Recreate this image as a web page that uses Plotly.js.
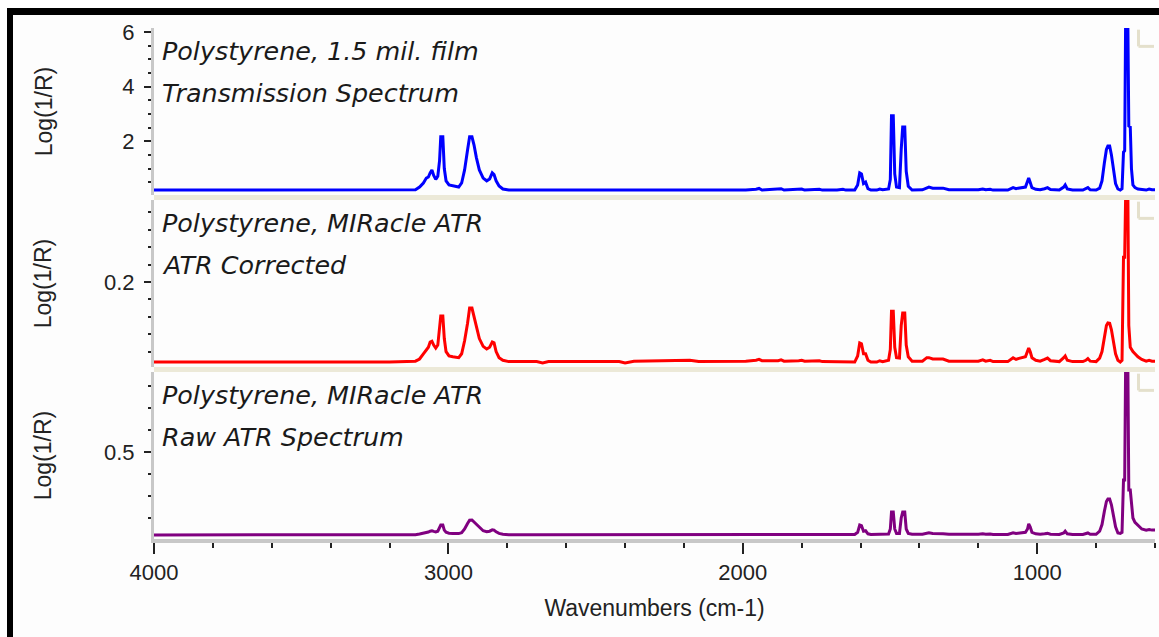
<!DOCTYPE html>
<html><head><meta charset="utf-8">
<script src="https://cdn.plot.ly/plotly-3.0.1.min.js"></script>
<style>
body{margin:0;background:#fff;}
#frame{position:absolute;left:7px;top:8px;width:1152px;height:629px;border-top:7px solid #000;border-left:6px solid #000;box-sizing:border-box;background:#fdfdfd;}
#chart{position:absolute;left:0;top:0;width:1159px;height:637px;}
</style></head><body>
<div id="frame"></div><div id="chart"></div>
<script>
const wavenumbers = [4000,3600,3200,3112,3098,3085,3075,3068,3062,3056,3050,3043,3036,3030,3026,3019,3014,3008,2998,2985,2965,2955,2945,2935,2928,2920,2913,2905,2895,2882,2870,2860,2851,2845,2838,2828,2815,2795,2700,2680,2660,2420,2400,2370,2180,2150,1990,1955,1945,1935,1880,1870,1860,1810,1800,1790,1750,1740,1730,1680,1660,1650,1620,1610,1603,1597,1590,1583,1575,1565,1545,1535,1525,1505,1499,1495,1489,1484,1478,1468,1462,1457,1450,1445,1438,1425,1390,1375,1368,1355,1345,1330,1320,1300,1240,1200,1185,1175,1160,1150,1100,1090,1082,1072,1065,1040,1033,1029,1024,1018,1005,990,975,965,955,940,925,910,905,898,880,845,835,828,820,800,788,780,772,765,760,754,748,741,734,726,718,712,707,703,700,692,689,684,680,675,668,658,645,630,620,610,600];
// Polystyrene, 1.5 mil film - transmission spectrum
const transmission = [0.21,0.21,0.21,0.22,0.32,0.47,0.65,0.69,0.84,0.95,0.75,0.60,0.72,1.30,2.16,2.16,1.00,0.55,0.40,0.36,0.32,0.47,0.95,1.68,2.16,2.16,1.86,1.40,0.95,0.65,0.55,0.62,0.84,0.78,0.55,0.36,0.25,0.21,0.21,0.21,0.21,0.21,0.21,0.21,0.21,0.21,0.21,0.24,0.27,0.21,0.23,0.26,0.21,0.23,0.25,0.21,0.23,0.24,0.21,0.21,0.24,0.21,0.21,0.40,0.84,0.80,0.45,0.50,0.26,0.21,0.21,0.25,0.22,0.25,0.60,2.93,2.93,0.80,0.32,0.30,1.70,2.52,2.52,0.90,0.35,0.21,0.22,0.30,0.32,0.28,0.28,0.26,0.28,0.22,0.21,0.22,0.25,0.22,0.24,0.21,0.21,0.26,0.30,0.26,0.28,0.32,0.50,0.65,0.50,0.30,0.24,0.22,0.26,0.30,0.23,0.22,0.21,0.32,0.40,0.25,0.21,0.21,0.25,0.30,0.22,0.21,0.28,0.55,1.20,1.70,1.83,1.83,1.50,0.90,0.45,0.25,0.21,0.26,1.60,1.65,6.11,6.11,2.56,2.52,1.00,0.40,0.30,0.25,0.22,0.21,0.25,0.22,0.22];
// MIRacle ATR - ATR corrected
const atrCorrected = [0.016,0.016,0.016,0.018,0.023,0.035,0.044,0.050,0.062,0.064,0.055,0.048,0.055,0.090,0.122,0.122,0.070,0.040,0.030,0.028,0.026,0.035,0.065,0.105,0.140,0.140,0.122,0.095,0.070,0.052,0.046,0.050,0.062,0.060,0.040,0.026,0.020,0.017,0.017,0.014,0.017,0.017,0.014,0.018,0.020,0.017,0.018,0.020,0.022,0.019,0.019,0.021,0.018,0.019,0.020,0.018,0.018,0.019,0.017,0.016,0.017,0.016,0.016,0.030,0.060,0.058,0.035,0.035,0.020,0.016,0.016,0.019,0.017,0.020,0.045,0.133,0.133,0.050,0.026,0.025,0.100,0.129,0.129,0.055,0.028,0.018,0.018,0.026,0.026,0.023,0.023,0.022,0.023,0.018,0.017,0.018,0.021,0.018,0.020,0.017,0.017,0.022,0.026,0.022,0.024,0.028,0.040,0.048,0.040,0.026,0.020,0.018,0.022,0.025,0.019,0.018,0.017,0.026,0.030,0.020,0.017,0.017,0.020,0.024,0.018,0.017,0.025,0.040,0.075,0.100,0.106,0.105,0.090,0.060,0.035,0.020,0.016,0.020,0.257,0.257,0.386,0.386,0.100,0.050,0.045,0.040,0.035,0.028,0.022,0.018,0.020,0.018,0.018];
// MIRacle ATR - raw ATR spectrum
const atrRaw = [0.123,0.123,0.123,0.124,0.127,0.130,0.134,0.136,0.140,0.142,0.139,0.137,0.140,0.155,0.168,0.168,0.145,0.135,0.131,0.130,0.129,0.133,0.150,0.175,0.190,0.191,0.182,0.168,0.155,0.142,0.138,0.140,0.146,0.145,0.137,0.130,0.126,0.124,0.124,0.124,0.124,0.124,0.124,0.124,0.125,0.125,0.125,0.126,0.127,0.125,0.125,0.126,0.125,0.125,0.126,0.125,0.125,0.126,0.125,0.125,0.126,0.125,0.125,0.135,0.168,0.165,0.140,0.142,0.128,0.125,0.125,0.126,0.125,0.127,0.150,0.227,0.227,0.150,0.130,0.130,0.200,0.227,0.227,0.150,0.130,0.126,0.126,0.132,0.133,0.130,0.130,0.128,0.128,0.126,0.125,0.126,0.128,0.126,0.127,0.125,0.125,0.130,0.133,0.130,0.131,0.135,0.150,0.173,0.160,0.135,0.128,0.126,0.128,0.130,0.126,0.125,0.125,0.132,0.140,0.128,0.125,0.125,0.128,0.132,0.126,0.126,0.140,0.170,0.230,0.275,0.286,0.286,0.260,0.200,0.160,0.132,0.130,0.135,0.373,0.373,0.859,0.859,0.327,0.327,0.250,0.200,0.180,0.165,0.150,0.145,0.148,0.145,0.145];

const panelTitles = [
  ['Polystyrene, 1.5 mil. film', 'Transmission Spectrum'],
  ['Polystyrene, MIRacle ATR', 'ATR Corrected'],
  ['Polystyrene, MIRacle ATR', 'Raw ATR Spectrum']
];
const yTitle = 'Log(1/R)';
const xTitle = 'Wavenumbers (cm-1)';

const TICK = {family:'Liberation Sans, Arial, sans-serif', size:22, color:'#222'};
const TIT = {family:'Liberation Sans, Arial, sans-serif', size:23, color:'#222'};
const TXT = {family:'DejaVu Sans, sans-serif', size:25.4, color:'#1a1a1a', style:'italic'};

function yax(domain, range, dtick, minor, standoff){
  return {domain:domain, range:range, autorange:false, anchor:'x', dtick:dtick, tick0:0,
    ticks:'outside', ticklen:7, tickwidth:2, tickcolor:'#222', ticklabelstandoff:5,
    showline:true, linecolor:'#c8c8c8', linewidth:3, showgrid:false, zeroline:false,
    minor:{dtick:minor, tick0:0, ticks:'outside', ticklen:3, tickwidth:2, tickcolor:'#222', showgrid:false},
    tickfont:TICK, title:{text:yTitle, font:TIT, standoff:standoff}, fixedrange:true};
}

const traces = [
  {x:wavenumbers, y:transmission, xaxis:'x', yaxis:'y3', mode:'lines', line:{color:'#0000ff', width:3}, hoverinfo:'skip'},
  {x:wavenumbers, y:atrCorrected, xaxis:'x', yaxis:'y2', mode:'lines', line:{color:'#ff0000', width:3}, hoverinfo:'skip'},
  {x:wavenumbers, y:atrRaw, xaxis:'x', yaxis:'y', mode:'lines', line:{color:'#800080', width:3}, hoverinfo:'skip'}
];

const annotations = [];
[['y3',0],['y2',1],['y',2]].forEach(function(p){
  panelTitles[p[1]].forEach(function(t,i){
    annotations.push({xref:'x domain', yref:p[0]+' domain', x:0, y:1, xanchor:'left', yanchor:'middle',
      xshift:6, yshift:(i===0?-23:-65), text:t, showarrow:false, font:TXT});
  });
});

const shapes = [];
const sep = '#ece9d8';
[[0.3268,0.3366],[0.6634,0.6732]].forEach(function(s){
  shapes.push({type:'rect', xref:'paper', yref:'paper', x0:0, x1:1, y0:s[0], y1:s[1], fillcolor:sep, line:{width:0}, layer:'below'});
});
['y','y2','y3'].forEach(function(a){
  shapes.push({type:'line', xref:'x domain', yref:a+' domain', x0:0.9835, x1:0.9835, y0:0.99, y1:0.89, line:{color:'#e4e0cc', width:3}});
  shapes.push({type:'line', xref:'x domain', yref:a+' domain', x0:0.9835, x1:0.999, y0:0.89, y1:0.89, line:{color:'#e4e0cc', width:3}});
});

const layout = {
  width:1159, height:637, margin:{l:154, r:4, t:28, b:98},
  paper_bgcolor:'rgba(0,0,0,0)', plot_bgcolor:'rgba(0,0,0,0)', showlegend:false,
  xaxis:{range:[4000,600], autorange:false, anchor:'y', dtick:1000, tick0:0,
    ticks:'outside', ticklen:11, tickwidth:2, tickcolor:'#222', ticklabelstandoff:0,
    showline:true, linecolor:'#c8c8c8', linewidth:4, showgrid:false, zeroline:false,
    minor:{dtick:200, tick0:0, ticks:'outside', ticklen:5, tickwidth:2, tickcolor:'#222', showgrid:false},
    tickfont:TICK, title:{text:xTitle, font:TIT, standoff:16}, fixedrange:true},
  yaxis: yax([0,0.3268],[0.1045,0.8636],0.5,0.1,46),
  yaxis2: yax([0.3366,0.6634],[0.0046,0.3885],0.2,0.04,46),
  yaxis3: yax([0.6732,1],[0.03,6.15],2,0.5,64),
  annotations:annotations, shapes:shapes
};
Plotly.newPlot('chart', traces, layout, {staticPlot:true});
</script></body></html>
